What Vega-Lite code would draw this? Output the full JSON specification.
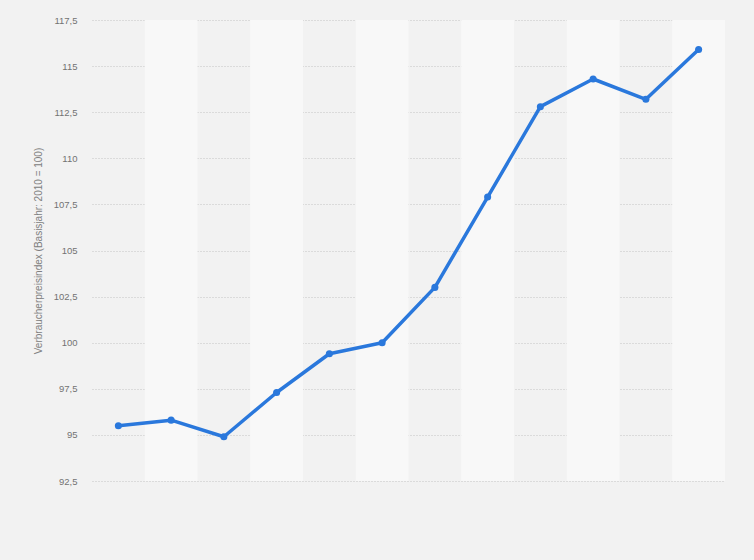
{
  "$schema": "https://vega.github.io/schema/vega-lite/v6.json",
  "width": 633,
  "height": 461,
  "autosize": {"type": "none"},
  "padding": {"left": 92, "top": 20, "right": 29, "bottom": 79},
  "background": "#f2f2f2",
  "config": {
    "view": {"stroke": null, "fill": "#f2f2f2"},
    "font": "Liberation Sans"
  },
  "data": {
    "values": [
      {"year": 2005, "value": 95.5},
      {"year": 2006, "value": 95.8},
      {"year": 2007, "value": 94.9},
      {"year": 2008, "value": 97.3},
      {"year": 2009, "value": 99.4},
      {"year": 2010, "value": 100.0},
      {"year": 2011, "value": 103.0},
      {"year": 2012, "value": 107.9},
      {"year": 2013, "value": 112.8},
      {"year": 2014, "value": 114.3},
      {"year": 2015, "value": 113.2},
      {"year": 2016, "value": 115.9}
    ]
  },
  "encoding": {
    "x": {
      "field": "year",
      "type": "ordinal",
      "scale": {"paddingInner": 0, "paddingOuter": 0},
      "axis": null
    }
  },
  "layer": [
    {
      "transform": [{"filter": "datum.year % 2 == 0"}],
      "mark": {"type": "rect", "color": "#f8f8f8"},
      "encoding": {
        "y": {"datum": 92.5, "type": "quantitative"},
        "y2": {"datum": 117.5}
      }
    },
    {
      "mark": {"type": "line", "color": "#2a78dc", "strokeWidth": 3.5, "strokeJoin": "round"},
      "encoding": {
        "y": {
          "field": "value",
          "type": "quantitative",
          "scale": {"domain": [92.5, 117.5], "nice": false, "zero": false},
          "axis": {
            "title": "Verbraucherpreisindex (Basisjahr: 2010 = 100)",
            "titleFont": "Liberation Sans",
            "titleFontWeight": "normal",
            "titleFontSize": 10,
            "titleColor": "#808080",
            "titlePadding": 10,
            "values": [92.5, 95, 97.5, 100, 102.5, 105, 107.5, 110, 112.5, 115, 117.5],
            "labelExpr": "replace(format(datum.value, '.1~f'), '.', ',')",
            "labelFont": "Liberation Sans",
            "labelFontSize": 9.5,
            "labelColor": "#737373",
            "labelPadding": 15,
            "ticks": false,
            "domain": false,
            "grid": true,
            "gridColor": "#c4c4c4",
            "gridDash": [1, 2],
            "gridWidth": 1
          }
        }
      }
    },
    {
      "mark": {"type": "point", "filled": true, "color": "#2a78dc", "size": 50, "opacity": 1},
      "encoding": {
        "y": {"field": "value", "type": "quantitative"}
      }
    }
  ]
}
